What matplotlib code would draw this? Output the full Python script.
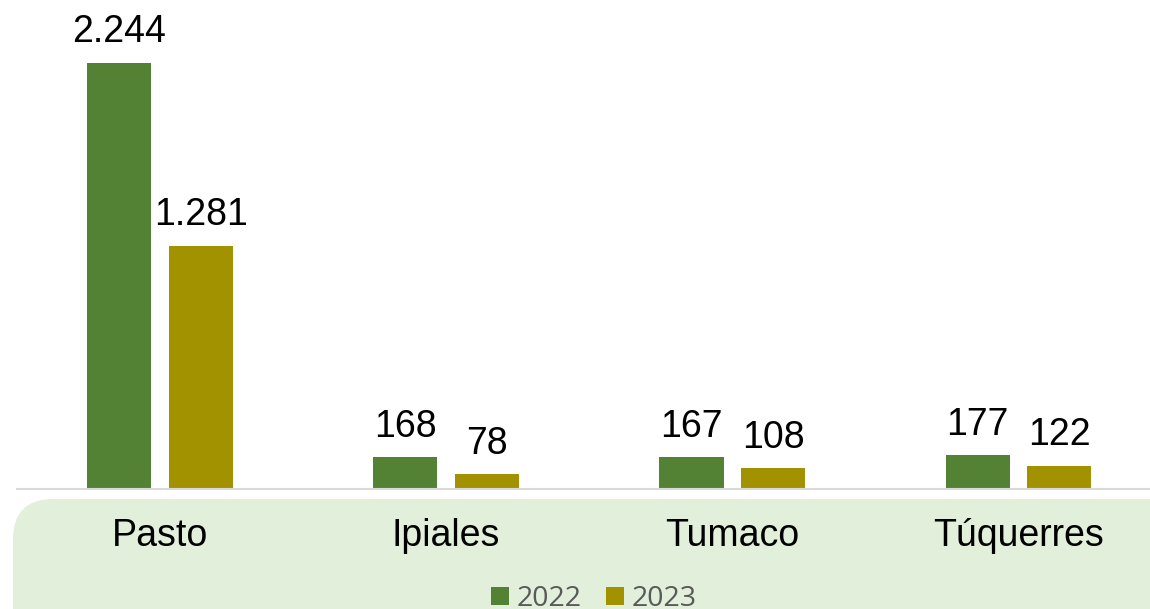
import matplotlib.pyplot as plt
from matplotlib.patches import FancyBboxPatch, Patch
import numpy as np

categories = ["Pasto", "Ipiales", "Tumaco", "Túquerres"]
years = ["2022", "2023"]
values_2022 = [2244, 168, 167, 177]
values_2023 = [1281, 78, 108, 122]
labels_2022 = ["2.244", "168", "167", "177"]
labels_2023 = ["1.281", "78", "108", "122"]

green = "#548235"
gold = "#A39200"

plt.rcParams["font.family"] = ["Liberation Sans", "DejaVu Sans"]

fig = plt.figure(figsize=(11.5, 6.09), dpi=100)
W, H = 1150, 609

# light green rounded panel behind the category labels and legend
panel = FancyBboxPatch((13 / W, -40 / H), 1.2, 150 / H,
                       boxstyle="round,pad=0,rounding_size=0.035",
                       transform=fig.transFigure, facecolor="#E2EFDA",
                       edgecolor="none", mutation_aspect=W / H, zorder=-1)
fig.patches.append(panel)

ax = fig.add_axes([17 / W, 1 - 489 / H, 1 - 17 / W, 475 / H])
ax.set_facecolor("none")

x = np.arange(len(categories))
width = 0.224
off = 0.1425
b1 = ax.bar(x - off, values_2022, width, color=green, zorder=2)
b2 = ax.bar(x + off, values_2023, width, color=gold, zorder=2)

for bars, labs in ((b1, labels_2022), (b2, labels_2023)):
    for rect, lab in zip(bars, labs):
        ax.annotate(lab, (rect.get_x() + rect.get_width() / 2, rect.get_height()),
                    xytext=(0, 9), textcoords="offset points",
                    ha="center", va="bottom", fontsize=27, color="black")

ax.set_xlim(-0.5, 3.46)
ax.set_ylim(0, 2500)
ax.set_yticks([])
ax.set_xticks([])
for s in ("top", "right", "left"):
    ax.spines[s].set_visible(False)
ax.spines["bottom"].set_color("#D9D9D9")
ax.spines["bottom"].set_linewidth(1.5)

for xi, cat in zip(x, categories):
    ax.text(xi, -57 / 475, cat, transform=ax.get_xaxis_transform(),
            ha="center", va="baseline", fontsize=27, color="black")

handles = [Patch(facecolor=green), Patch(facecolor=gold)]
fig.legend(handles, years, loc="center", bbox_to_anchor=(0.5165, 1 - 599 / H),
           ncol=2, frameon=False, prop={"family": "Open Sans", "size": 20.5},
           labelcolor="#595959", handlelength=0.63, handleheight=0.63,
           handletextpad=0.28, columnspacing=0.84)

fig.savefig("out.png", dpi=100)
